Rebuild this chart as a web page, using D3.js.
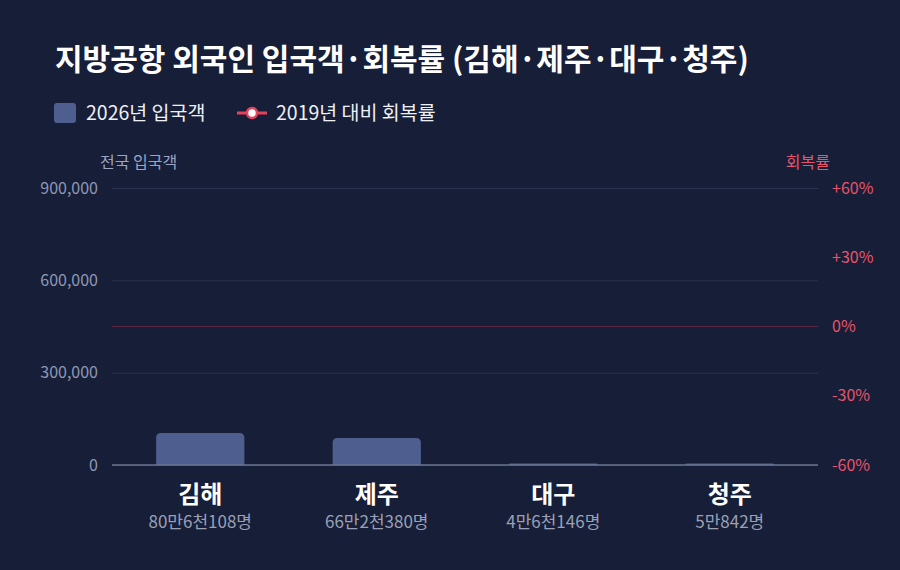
<!DOCTYPE html>
<html>
<head>
<meta charset="utf-8">
<script src="https://cdn.jsdelivr.net/npm/d3@7"></script>
<style>
  body { margin: 0; background: #171e37; }
  svg { display: block; font-family: "Noto Sans CJK KR", "Noto Sans", sans-serif; }
</style>
</head>
<body>
<svg width="900" height="570"></svg>
<script>
// data
var airports = ["김해", "제주", "대구", "청주"];
var arrivals = [104000, 88000, 4500, 4500];
var arrivalLabels = ["80만6천108명", "66만2천380명", "4만6천146명", "5만842명"];
var recovery = [null, null, null, null]; // no points visible in the picture
var leftTicks = [0, 300000, 600000, 900000];
var rightTicks = [-60, -30, 0, 30, 60];

var svg = d3.select("svg"),
    width = +svg.attr("width"),
    height = +svg.attr("height");

var margin = {top: 188, right: 82, bottom: 105, left: 112};
var x0 = margin.left, x1 = width - margin.right;
var yTop = margin.top, yBot = height - margin.bottom;

svg.append("rect").attr("width", width).attr("height", height).attr("fill", "#171e37");

var x = d3.scaleBand().domain(airports).range([x0, x1]).paddingInner(0.5).paddingOuter(0.25);
var y = d3.scaleLinear().domain([0, 900000]).range([yBot, yTop]);
var yR = d3.scaleLinear().domain([-60, 60]).range([yBot, yTop]);

// title
svg.append("text")
  .attr("x", 55).attr("y", 70)
  .attr("fill", "#ffffff")
  .attr("font-size", "30px")
  .attr("font-weight", "bold")
  .text("지방공항 외국인 입국객·회복률 (김해·제주·대구·청주)");

// legend
var lg = svg.append("g");
lg.append("rect").attr("x", 54).attr("y", 103).attr("width", 22).attr("height", 20).attr("rx", 3)
  .attr("fill", "#4e5f8f");
lg.append("text").attr("x", 86).attr("y", 120).attr("fill", "#eef0f6").attr("font-size", "19.5px")
  .text("2026년 입국객");
lg.append("line").attr("x1", 237).attr("x2", 267).attr("y1", 113).attr("y2", 113)
  .attr("stroke", "#e8415a").attr("stroke-width", 3);
lg.append("circle").attr("cx", 252).attr("cy", 113).attr("r", 5)
  .attr("fill", "#ffffff").attr("stroke", "#e8415a").attr("stroke-width", 2.5);
lg.append("text").attr("x", 276).attr("y", 120).attr("fill", "#eef0f6").attr("font-size", "19.5px")
  .text("2019년 대비 회복률");

// axis titles
svg.append("text").attr("x", 100).attr("y", 168).attr("fill", "#9aa5c6").attr("font-size", "16px")
  .text("전국 입국객");
svg.append("text").attr("x", 830).attr("y", 168).attr("text-anchor", "end")
  .attr("fill", "#e8546c").attr("font-size", "16px").text("회복률");

// left grid + axis
var leftAxis = svg.append("g")
  .attr("transform", "translate(" + x0 + ",0)")
  .call(d3.axisLeft(y).tickValues(leftTicks).tickSize(-(x1 - x0)).tickPadding(14)
    .tickFormat(d3.format(",")));
leftAxis.select(".domain").remove();
leftAxis.selectAll(".tick line").attr("stroke", "#2b3350").attr("stroke-width", 1);
leftAxis.selectAll(".tick text").attr("fill", "#8e99b8").attr("font-size", "16px")
  .attr("font-family", "Noto Sans CJK KR, Noto Sans, sans-serif");

// right axis
var rightAxis = svg.append("g")
  .attr("transform", "translate(" + x1 + ",0)")
  .call(d3.axisRight(yR).tickValues(rightTicks).tickSize(0).tickPadding(14)
    .tickFormat(function(d) { return (d > 0 ? "+" : "") + d + "%"; }));
rightAxis.select(".domain").remove();
rightAxis.selectAll(".tick text").attr("fill", "#e8546c").attr("font-size", "16px")
  .attr("font-family", "Noto Sans CJK KR, Noto Sans, sans-serif");

// 0% line
svg.append("line").attr("x1", x0).attr("x2", x1).attr("y1", yR(0)).attr("y2", yR(0))
  .attr("stroke", "#5a2540").attr("stroke-width", 1.2);

// bars
svg.append("g").selectAll("path")
  .data(airports)
  .enter().append("path")
  .attr("fill", "#4e5f8f")
  .attr("d", function(d, i) {
    var bx = x(d), bw = x.bandwidth(), top = y(arrivals[i]), h = yBot - top;
    var r = Math.min(5, h / 2);
    return "M" + bx + "," + yBot +
      "V" + (top + r) + "Q" + bx + "," + top + " " + (bx + r) + "," + top +
      "H" + (bx + bw - r) + "Q" + (bx + bw) + "," + top + " " + (bx + bw) + "," + (top + r) +
      "V" + yBot + "Z";
  });

// baseline
svg.append("line").attr("x1", x0).attr("x2", x1).attr("y1", yBot).attr("y2", yBot)
  .attr("stroke", "#6b7491").attr("stroke-width", 1.5);

// recovery line (clipped to plot)
svg.append("clipPath").attr("id", "plot").append("rect")
  .attr("x", x0).attr("y", yTop).attr("width", x1 - x0).attr("height", yBot - yTop);
var line = d3.line()
  .defined(function(d) { return d != null; })
  .x(function(d, i) { return x(airports[i]) + x.bandwidth() / 2; })
  .y(function(d) { return yR(d); });
var rg = svg.append("g").attr("clip-path", "url(#plot)");
rg.append("path").datum(recovery).attr("d", line)
  .attr("fill", "none").attr("stroke", "#e8415a").attr("stroke-width", 3);
rg.selectAll("circle").data(recovery.filter(function(d) { return d != null; }))
  .enter().append("circle")
  .attr("r", 5).attr("fill", "#fff").attr("stroke", "#e8415a").attr("stroke-width", 2.5);

// category labels
var cat = svg.append("g").selectAll("g").data(airports).enter().append("g")
  .attr("transform", function(d) { return "translate(" + (x(d) + x.bandwidth() / 2) + ",0)"; });
cat.append("text").attr("y", 503).attr("text-anchor", "middle")
  .attr("fill", "#ffffff").attr("font-size", "24px").attr("font-weight", "bold")
  .text(function(d) { return d; });
cat.append("text").attr("y", 528).attr("text-anchor", "middle")
  .attr("fill", "#9aa0b6").attr("font-size", "17px")
  .text(function(d, i) { return arrivalLabels[i]; });
</script>
</body>
</html>
